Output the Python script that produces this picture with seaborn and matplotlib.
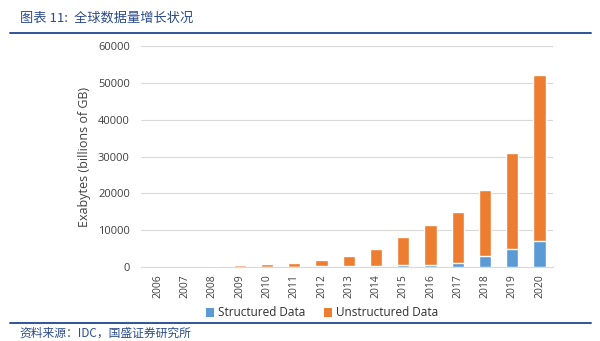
import matplotlib
matplotlib.use("Agg")
import matplotlib.pyplot as plt
import seaborn as sns
import pandas as pd
from matplotlib.patches import Patch
from matplotlib.lines import Line2D

years = ["2006", "2007", "2008", "2009", "2010", "2011", "2012", "2013",
         "2014", "2015", "2016", "2017", "2018", "2019", "2020"]
structured = [10, 15, 30, 60, 80, 110, 170, 250, 350, 450, 600, 1000, 3000, 5000, 7000]
unstructured = [40, 60, 220, 440, 620, 890, 1830, 2750, 4650, 7750, 10900, 14000, 18000, 26000, 45000]
y_ticks = [0, 10000, 20000, 30000, 40000, 50000, 60000]

title_text = "图表 11:  全球数据量增长状况"
source_text = "资料来源：IDC，国盛证券研究所"
y_label = "Exabytes (billions of GB)"
legend_labels = ["Structured Data", "Unstructured Data"]

blue = "#5B9BD5"
orange = "#ED7D31"

df = pd.DataFrame({
    "year": years,
    "structured": structured,
    "total": [s + u for s, u in zip(structured, unstructured)],
})

sns.set_style("white")
plt.rcParams['font.family'] = ['Noto Sans CJK SC', 'DejaVu Sans']

fig = plt.figure(figsize=(6, 3.41), dpi=100)
ax = fig.add_axes([0.235, 0.217, 0.687, 0.648])

sns.barplot(data=df, x="year", y="total", color=orange, width=0.45,
            saturation=1, ax=ax, zorder=3)
sns.barplot(data=df, x="year", y="structured", color=blue, width=0.45,
            saturation=1, ax=ax, zorder=4)

ax.set_ylim(0, 60000)
ax.set_xlim(-0.62, 14.5)
ax.set_yticks(y_ticks)
ax.set_yticklabels([str(v) for v in y_ticks], fontsize=8, color="#404040",
                   family=['Open Sans', 'DejaVu Sans'])
ax.tick_params(axis='x', labelrotation=90, labelsize=7.5, colors="#404040", length=0, pad=5)
ax.tick_params(axis='y', length=0, pad=8)
for lab in ax.get_xticklabels():
    lab.set_family(['Open Sans', 'DejaVu Sans'])
ax.grid(axis='y', color="#D9D9D9", linewidth=0.8, zorder=0)
ax.set_axisbelow(True)
for s in ["top", "right", "left"]:
    ax.spines[s].set_visible(False)
ax.spines["bottom"].set_color("#D9D9D9")
ax.set_xlabel("")
ax.set_ylabel(y_label, fontsize=9, color="#404040", family=['Open Sans', 'DejaVu Sans'], labelpad=5)

handles = [Patch(facecolor=blue, edgecolor="none"), Patch(facecolor=orange, edgecolor="none")]
fig.legend(handles, legend_labels, loc="center", bbox_to_anchor=(0.537, 1 - 313 / 341),
           ncol=2, frameon=False, handlelength=0.7, handleheight=0.7,
           handletextpad=0.3, columnspacing=1.6, prop={'family': ['Open Sans', 'DejaVu Sans'], 'size': 8.5},
           labelcolor="#303030")

fig.text(0.033, 1 - 18 / 341, title_text, fontsize=9.5, color="#2B4C8C", va="center", ha="left",
         style="italic")
fig.add_artist(Line2D([0.017, 0.985], [1 - 33 / 341] * 2, color="#2E5597", linewidth=1.4))
fig.add_artist(Line2D([0.017, 0.985], [1 - 323 / 341] * 2, color="#2E5597", linewidth=1.4))
fig.text(0.033, 1 - 333 / 341, source_text, fontsize=8.5, color="#2B4C8C", va="center", ha="left",
         style="italic")

fig.savefig("out.png", dpi=100)
